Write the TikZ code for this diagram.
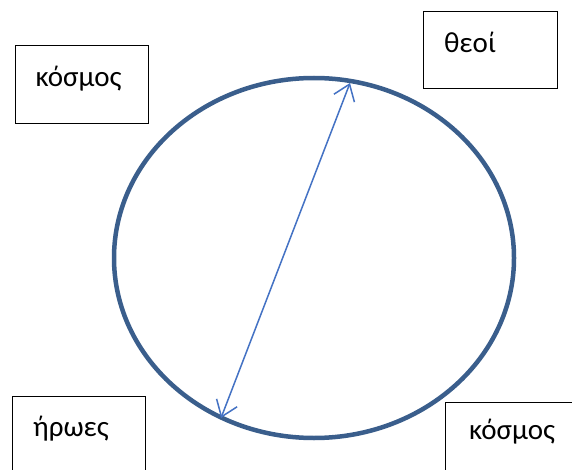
\documentclass[tikz,border=0pt]{standalone}
\usepackage{fontspec}
\setmainfont{Carlito}
\usetikzlibrary{arrows.meta,shapes.geometric}
\definecolor{ringblue}{RGB}{58,94,140}
\definecolor{arrowblue}{RGB}{68,114,196}
\tikzset{
  lbox/.style={draw=black, line width=0.9pt},
  lbl/.style={inner sep=0pt, font=\fontsize{29}{34}\selectfont},
  dblarrow/.style={arrowblue, line width=1.5pt, >={Straight Barb[length=15pt,width=22pt]}, <->},
}
\begin{document}
\begin{tikzpicture}[x=1pt,y=-1pt]
\useasboundingbox (0,0) rectangle (572,470);
\clip (0,0) rectangle (572,470);
\fill[white] (0,0) rectangle (572,470);
% boxes
\draw[lbox] (15,45) rectangle (148,123);
\draw[lbox] (423,11) rectangle (557,88);
\draw[lbox] (12,396) rectangle (145,480);
\draw[lbox] (445,402) rectangle (590,480);
\node[lbl] (k1) at (78.5,79) {κόσμος};
\node[lbl] (th) at (470,42) {θεοί};
\node[lbl] (hr) at (71,429) {ήρωες};
\node[lbl] (k2) at (512,432) {κόσμος};
% ellipse
\node[draw=ringblue, line width=4.5pt, ellipse, minimum width=400pt, minimum height=360pt, inner sep=0pt] (ring) at (314,258) {};
\coordinate (top) at (350,83);
\coordinate (bot) at (221,418);
\draw[dblarrow] (bot) -- (top);
\end{tikzpicture}
\end{document}
